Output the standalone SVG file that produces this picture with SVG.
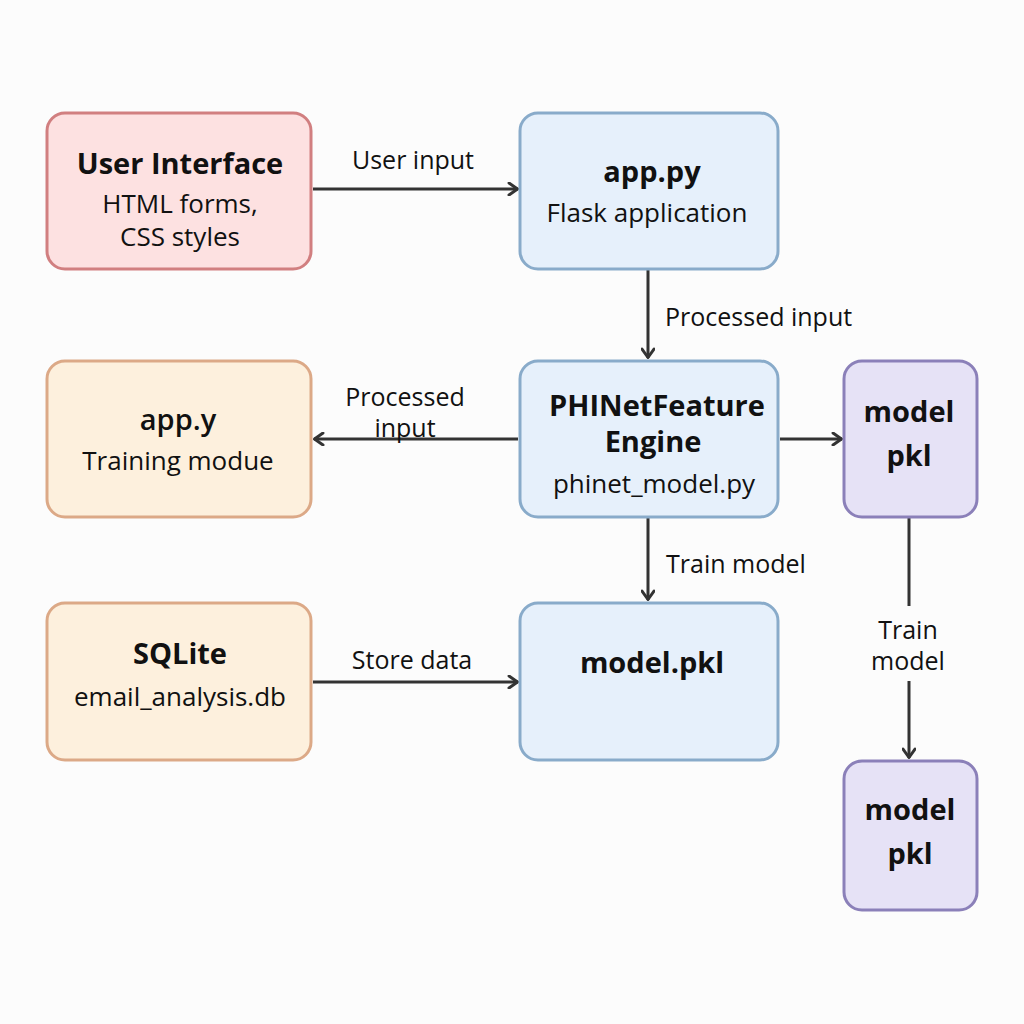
<svg xmlns="http://www.w3.org/2000/svg" width="1024" height="1024" viewBox="0 0 1024 1024">
<style>
.t{font-family:"Open Sans","Noto Sans",Lato,sans-serif;font-weight:700;font-size:29px;fill:#111;text-anchor:middle}
.s{font-family:"Open Sans","Noto Sans",Lato,sans-serif;font-size:26px;fill:#111;text-anchor:middle}
.l{font-family:"Open Sans","Noto Sans",Lato,sans-serif;font-size:25px;fill:#111}
.red{fill:#fde1e1;stroke:#d17f80;stroke-width:3}
.blue{fill:#e6f0fb;stroke:#89abca;stroke-width:3}
.org{fill:#fdf0dd;stroke:#dca987;stroke-width:3}
.pur{fill:#e6e2f6;stroke:#8b80b9;stroke-width:3}
.c{stroke:#333;stroke-width:3;fill:none}
</style>
<defs>
<marker id="a" viewBox="0 0 12 14" refX="11" refY="7" markerWidth="12" markerHeight="14" markerUnits="userSpaceOnUse" orient="auto">
<path d="M2,1 L10.5,7 L2,13" fill="none" stroke="#333" stroke-width="3" stroke-linecap="round" stroke-linejoin="round"/>
</marker>
</defs>
<rect width="1024" height="1024" fill="#fcfcfc"/>
<g id="connectors">
<line class="c" x1="313" y1="189" x2="518" y2="189" marker-end="url(#a)"/>
<line class="c" x1="648" y1="270" x2="648" y2="358" marker-end="url(#a)"/>
<line class="c" x1="518" y1="439" x2="314" y2="439" marker-end="url(#a)"/>
<line class="c" x1="780" y1="439" x2="842" y2="439" marker-end="url(#a)"/>
<line class="c" x1="648" y1="518" x2="648" y2="600" marker-end="url(#a)"/>
<line class="c" x1="313" y1="682" x2="518" y2="682" marker-end="url(#a)"/>
<line class="c" x1="909" y1="518" x2="909" y2="606"/>
<line class="c" x1="909" y1="681" x2="909" y2="758" marker-end="url(#a)"/>
<text class="l" x="413" y="169" text-anchor="middle">User input</text>
<text class="l" x="665" y="326">Processed input</text>
<text class="l" x="405" y="406" text-anchor="middle">Processed</text>
<text class="l" x="405" y="437" text-anchor="middle">input</text>
<text class="l" x="666" y="573">Train model</text>
<text class="l" x="412" y="669" text-anchor="middle">Store data</text>
<text class="l" x="908" y="639" text-anchor="middle">Train</text>
<text class="l" x="908" y="670" text-anchor="middle">model</text>
</g>
<g id="ui">
<rect class="red" x="47" y="113" width="264" height="156" rx="18"/>
<text class="t" x="180" y="174">User Interface</text>
<text class="s" x="180" y="213">HTML forms,</text>
<text class="s" x="180" y="246">CSS styles</text>
</g>
<g id="app_py">
<rect class="blue" x="520" y="113" width="258" height="156" rx="18"/>
<text class="t" x="652" y="182">app.py</text>
<text class="s" x="647" y="222">Flask application</text>
</g>
<g id="app_y">
<rect class="org" x="47" y="361" width="264" height="156" rx="18"/>
<text class="s" x="178" y="430" style="font-size:29px;font-weight:600">app.y</text>
<text class="s" x="178" y="470">Training modue</text>
</g>
<g id="phinet">
<rect class="blue" x="520" y="361" width="258" height="156" rx="18"/>
<text class="t" x="657" y="416">PHINetFeature</text>
<text class="t" x="653" y="452">Engine</text>
<text class="s" x="654" y="493">phinet_model.py</text>
</g>
<g id="model_pkl_1">
<rect class="pur" x="844" y="361" width="133" height="156" rx="18"/>
<text class="t" x="909" y="422">model</text>
<text class="t" x="909" y="466">pkl</text>
</g>
<g id="sqlite">
<rect class="org" x="47" y="603" width="264" height="157" rx="18"/>
<text class="t" x="180" y="664">SQLite</text>
<text class="s" x="180" y="706">email_analysis.db</text>
</g>
<g id="model_pkl_main">
<rect class="blue" x="520" y="603" width="258" height="157" rx="18"/>
<text class="t" x="652" y="673">model.pkl</text>
</g>
<g id="model_pkl_2">
<rect class="pur" x="844" y="761" width="133" height="149" rx="18"/>
<text class="t" x="910" y="820">model</text>
<text class="t" x="910" y="864">pkl</text>
</g>
</svg>
